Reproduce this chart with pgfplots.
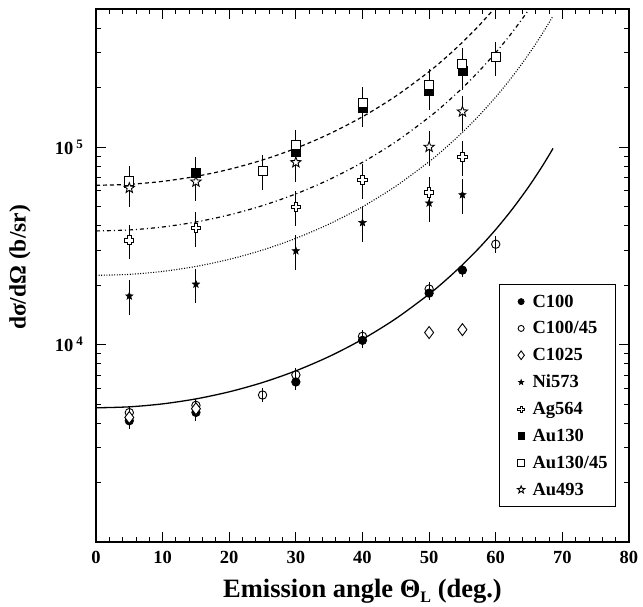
\documentclass[border=0pt]{standalone}
\usepackage{fontspec}
\setmainfont{Liberation Serif}
\usepackage{pgfplots}
\pgfplotsset{compat=1.18}

\pgfdeclareplotmark{pstar}{%
  \pgfpathmoveto{\pgfpointpolar{90}{\pgfplotmarksize}}%
  \pgfpathlineto{\pgfpointpolar{126}{0.42\pgfplotmarksize}}%
  \pgfpathlineto{\pgfpointpolar{162}{\pgfplotmarksize}}%
  \pgfpathlineto{\pgfpointpolar{198}{0.42\pgfplotmarksize}}%
  \pgfpathlineto{\pgfpointpolar{234}{\pgfplotmarksize}}%
  \pgfpathlineto{\pgfpointpolar{270}{0.42\pgfplotmarksize}}%
  \pgfpathlineto{\pgfpointpolar{306}{\pgfplotmarksize}}%
  \pgfpathlineto{\pgfpointpolar{342}{0.42\pgfplotmarksize}}%
  \pgfpathlineto{\pgfpointpolar{18}{\pgfplotmarksize}}%
  \pgfpathlineto{\pgfpointpolar{54}{0.42\pgfplotmarksize}}%
  \pgfpathclose
  \pgfusepathqfillstroke}

\pgfdeclareplotmark{ocross}{%
  \pgfpathmoveto{\pgfpoint{0.36\pgfplotmarksize}{\pgfplotmarksize}}%
  \pgfpathlineto{\pgfpoint{0.36\pgfplotmarksize}{0.36\pgfplotmarksize}}%
  \pgfpathlineto{\pgfpoint{\pgfplotmarksize}{0.36\pgfplotmarksize}}%
  \pgfpathlineto{\pgfpoint{\pgfplotmarksize}{-0.36\pgfplotmarksize}}%
  \pgfpathlineto{\pgfpoint{0.36\pgfplotmarksize}{-0.36\pgfplotmarksize}}%
  \pgfpathlineto{\pgfpoint{0.36\pgfplotmarksize}{-\pgfplotmarksize}}%
  \pgfpathlineto{\pgfpoint{-0.36\pgfplotmarksize}{-\pgfplotmarksize}}%
  \pgfpathlineto{\pgfpoint{-0.36\pgfplotmarksize}{-0.36\pgfplotmarksize}}%
  \pgfpathlineto{\pgfpoint{-\pgfplotmarksize}{-0.36\pgfplotmarksize}}%
  \pgfpathlineto{\pgfpoint{-\pgfplotmarksize}{0.36\pgfplotmarksize}}%
  \pgfpathlineto{\pgfpoint{-0.36\pgfplotmarksize}{0.36\pgfplotmarksize}}%
  \pgfpathlineto{\pgfpoint{-0.36\pgfplotmarksize}{\pgfplotmarksize}}%
  \pgfpathclose
  \pgfusepathqfillstroke}

\newcommand\legfont{\fontsize{18.5}{20}\selectfont\bfseries}

\begin{document}
\begin{tikzpicture}
\path[use as bounding box] (-96pt,-64pt) rectangle (547pt,542pt);
\begin{axis}[
  scale only axis, width=533pt, height=533pt,
  xmin=0, xmax=80, ymin=1000, ymax=500000,
  ymode=log,
  axis line style={line width=1.6pt},
  tick style={line width=0.9pt, black},
  major tick length=10pt, minor tick length=5pt,
  xtick={0,10,...,80},
  xticklabels={0,10,20,30,40,50,60,70,80},
  minor x tick num=4,
  ytick={10000,100000},
  yticklabels={\textbf{10}\,\textsuperscript{\textbf{4}}, \textbf{10}\,\textsuperscript{\textbf{5}}},
  minor ytick={2000,3000,4000,5000,6000,7000,8000,9000,20000,30000,40000,50000,60000,70000,80000,90000,200000,300000,400000},
  ticklabel style={font=\fontsize{18.5}{18.5}\selectfont\bfseries},
  xticklabel style={anchor=base, yshift=-21.5pt},
  yticklabel style={anchor=east, xshift=-9pt},
  xlabel={Emission angle Θ\raisebox{-0.4ex}{\fontsize{16}{16}\selectfont L} (deg.)},
  ylabel={dσ/dΩ (b/sr)},
  every axis x label/.style={at={(axis description cs:0.5,-0.1045)}, anchor=base, font=\fontsize{26.5}{26.5}\selectfont\bfseries},
  every axis y label/.style={at={(axis description cs:-0.1426,0.515)}, anchor=center, rotate=90, font=\fontsize{23.5}{23.5}\selectfont\bfseries},
  legend style={at={(axis description cs:0.9756,0.0657)}, anchor=south east,
    draw=black, line width=0.8pt, font=\legfont, nodes={font=\legfont},
    row sep=9pt, inner xsep=6pt, inner ysep=8pt, column sep=0pt},
  legend image code/.code={%
    \path (-15.7pt,0pt) (9pt,0pt);
    \draw[#1, every mark/.append style={scale=0.72}] plot coordinates {(0pt,0pt)};},
  legend cell align=left,
  error bars/error bar style={line width=0.9pt, black},
  error bars/error mark=none,
]
% fitted curves (read from the picture)
\addplot[black, line width=1.3pt, forget plot, smooth] coordinates {
 (0,4780) (5,4835) (10,5005) (15,5304) (20,5761) (25,6421) (30,7359) (35,8696) (40,10633) (45,13520) (50,17999) (52.5,21188) (55,25331) (57.5,30817) (60,38240) (62.5,48552) (65,63327) (67,80132) (68.6,98396)};
\addplot[black, line width=1.2pt, forget plot, smooth, dash pattern=on 4pt off 3pt] coordinates {
 (0,64000) (5,64737) (10,67008) (15,71015) (20,77131) (25,85973) (30,98534) (35,116436) (40,142370) (45,181020) (50,240984) (52.5,283688) (55,339162) (57.5,412606) (60,512000)};
\addplot[black, line width=1.2pt, forget plot, smooth, dash pattern=on 4pt off 3pt on 1pt off 3pt] coordinates {
 (0,37600) (5,38033) (10,39367) (15,41721) (20,45314) (25,50509) (30,57889) (35,68406) (40,83642) (45,106349) (50,141578) (52.5,166667) (55,199258) (57.5,242406) (60,300800) (62.5,381918) (65,498140) (67,630326)};
\addplot[black, line width=1.1pt, forget plot, smooth, dash pattern=on 1pt off 1.6pt] coordinates {
 (0,22400) (5,22658) (10,23453) (15,24855) (20,26996) (25,30091) (30,34487) (35,40753) (40,49829) (45,63357) (50,84344) (52.5,99291) (55,118707) (57.5,144412) (60,179200) (62.5,227526) (65,296764) (67,375514) (68.6,461104)};

% data
\addplot[only marks, mark=*, mark size=4.2pt, mark options={fill=black, line width=0.8pt},
  error bars/.cd, y dir=both, y explicit relative] coordinates {
 (5,4110) +- (0,0.09) (15,4530) +- (0,0.09) (30,6460) +- (0,0.09) (40,10500) +- (0,0.09) (50,18200) +- (0,0.08) (55,23800) +- (0,0.08)};
\addlegendentry{C100}
\addplot[only marks, mark=o, mark size=4.2pt, mark options={fill=white, line width=0.9pt},
  error bars/.cd, y dir=both, y explicit relative] coordinates {
 (5,4520) +- (0,0.08) (15,4920) +- (0,0.08) (25,5550) +- (0,0.08) (30,7020) +- (0,0.08) (40,11000) +- (0,0.08) (50,19100) +- (0,0.08) (60,32200) +- (0,0.1)};
\addlegendentry{C100/45}
\addplot[only marks, mark=diamond*, mark size=6pt, mark options={fill=white, line width=0.9pt}] coordinates {
 (5,4270) (15,4730) (50,11500) (55,11900)};
\addlegendentry{C1025}
\addplot[only marks, mark=pstar, mark size=3.8pt, mark options={fill=black, line width=0.6pt},
  error bars/.cd, y dir=both, y explicit relative] coordinates {
 (5,17600) +- (0,0.2) (15,20200) +- (0,0.2) (30,29800) +- (0,0.2) (40,41400) +- (0,0.2) (50,52000) +- (0,0.2) (55,57300) +- (0,0.2)};
\addlegendentry{Ni573}
\addplot[only marks, mark=ocross, mark size=4.6pt, mark options={fill=white, line width=0.9pt},
  error bars/.cd, y dir=both, y explicit relative] coordinates {
 (5,33700) +- (0,0.2) (15,39000) +- (0,0.2) (30,49800) +- (0,0.2) (40,68000) +- (0,0.2) (50,58900) +- (0,0.2) (55,89300) +- (0,0.2)};
\addlegendentry{Ag564}
\addplot[only marks, mark=square*, mark size=4.5pt, mark options={fill=black, line width=0.8pt},
  error bars/.cd, y dir=both, y explicit relative] coordinates {
 (5,65500) +- (0,0.2) (15,74000) +- (0,0.2) (30,94600) +- (0,0.2) (40,157000) +- (0,0.2) (50,193000) +- (0,0.2) (55,244000) +- (0,0.2)};
\addlegendentry{Au130}
\addplot[only marks, mark=square*, mark size=4.5pt, mark options={fill=white, line width=0.9pt},
  error bars/.cd, y dir=both, y explicit relative] coordinates {
 (5,67000) +- (0,0.2) (25,76000) +- (0,0.2) (30,102000) +- (0,0.2) (40,167000) +- (0,0.2) (50,207000) +- (0,0.2) (55,264000) +- (0,0.2) (60,285000) +- (0,0.2)};
\addlegendentry{Au130/45}
\addplot[only marks, mark=pstar, mark size=5.4pt, mark options={fill=white, line width=0.9pt},
  error bars/.cd, y dir=both, y explicit relative] coordinates {
 (5,62000) +- (0,0.2) (15,66700) +- (0,0.2) (30,83600) +- (0,0.2) (50,100000) +- (0,0.2) (55,151000) +- (0,0.2)};
\addlegendentry{Au493}
\end{axis}
\end{tikzpicture}
\end{document}
